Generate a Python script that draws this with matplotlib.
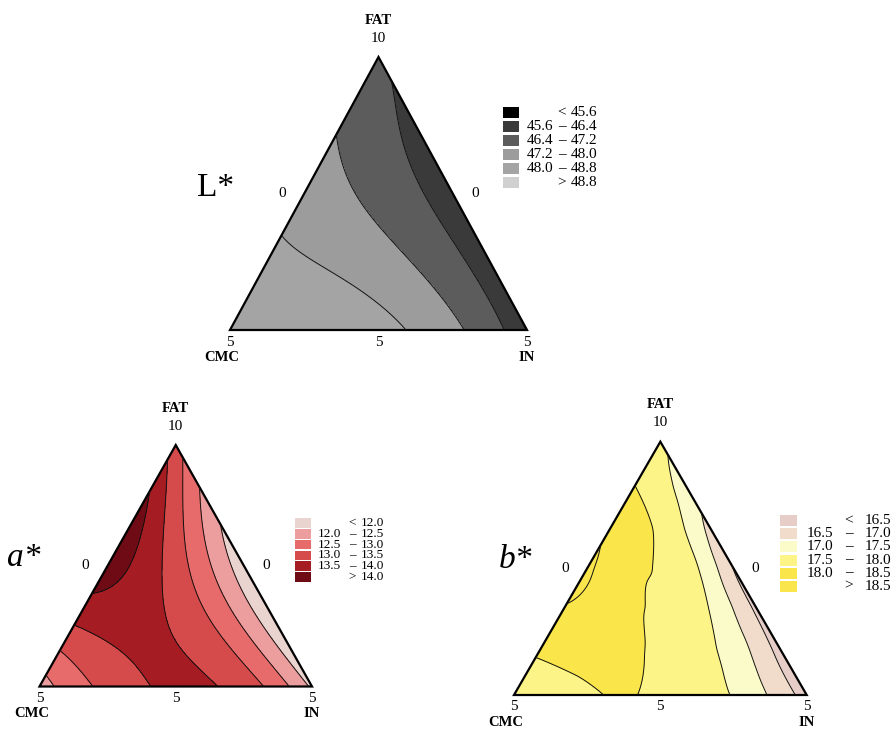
import numpy as np
import matplotlib
matplotlib.use("Agg")
import matplotlib.pyplot as plt
import matplotlib.tri as mtri
from matplotlib.patches import Polygon, Rectangle

W, H = 893, 735
S3 = np.sqrt(3) / 2

# response values on a 1/6 simplex lattice, one row per FAT level (bottom -> apex),
# each row runs from the CMC side to the IN side
L_rows = [
    [48.5, 48.45, 48.35, 48.2, 47.8, 46.9, 45.9],
    [48.3, 48.15, 47.95, 47.6, 46.9, 45.97],
    [48.02, 47.75, 47.35, 46.7, 46.05],
    [47.7, 47.3, 46.55, 46.12],
    [47.3, 46.7, 46.2],
    [46.9, 46.33],
    [46.45],
]
a_rows = [
    [12.3, 12.85, 13.4, 13.7, 13.3, 13.05, 11.9],
    [13.1, 13.45, 13.58, 13.3, 12.8, 11.6],
    [13.8, 13.75, 13.4, 12.7, 11.6],
    [14.3, 13.7, 12.7, 11.7],
    [14.25, 13.2, 11.9],
    [13.95, 12.6],
    [13.2],
]
b_rows = [
    [17.6, 17.8, 18.02, 17.9, 17.65, 17.15, 16.3],
    [18.05, 18.15, 18.05, 17.75, 17.3, 16.3],
    [18.45, 18.2, 17.93, 17.5, 16.38],
    [18.6, 18.07, 17.75, 16.48],
    [18.4, 17.9, 16.85],
    [17.98, 17.3],
    [17.6],
]

L_levels = [45.6, 46.4, 47.2, 48.0, 48.8]
a_levels = [12.0, 12.5, 13.0, 13.5, 14.0]
b_levels = [16.5, 17.0, 17.5, 18.0, 18.5]

L_colors = ['#000000', '#3a3a3a', '#5c5c5c', '#9c9c9c', '#a4a4a4', '#d0d0d0']
a_colors = ['#ead4d0', '#ec9e9e', '#e86b6b', '#d54a4a', '#a51d23', '#6e0b14']
b_colors = ['#e6cdc8', '#f1dccb', '#fbfbca', '#fdf488', '#fae64a', '#fbe54c']

fig = plt.figure(figsize=(W / 100, H / 100), dpi=100)
over = fig.add_axes([0, 0, 1, 1])
over.set_xlim(0, W)
over.set_ylim(H, 0)
over.axis('off')

SERIF = 'Liberation Serif'


def lattice(rows):
    n = len(rows) - 1
    xs, ys, zs = [], [], []
    for k, row in enumerate(rows):
        for j, v in enumerate(row):
            f, i = k / n, j / n
            xs.append(i + f / 2)
            ys.append(f * S3)
            zs.append(v)
    return np.array(xs), np.array(ys), np.array(zs)


def scheffe(x, y, deg):
    # homogeneous mixture polynomial terms in (CMC, IN, FAT)
    f = y / S3
    i = x - f / 2
    c = 1 - i - f
    cols = []
    for p in range(deg + 1):
        for q in range(deg + 1 - p):
            cols.append(c ** p * i ** q * f ** (deg - p - q))
    return np.column_stack(cols)


def panel(bl, base, height, rows, levels, colors, deg=4):
    x0, y0 = bl
    ax = fig.add_axes([x0 / W, 1 - y0 / H, base / W, height / H])
    xs, ys, zs = lattice(rows)
    tri = mtri.Triangulation(xs, ys)
    refiner = mtri.UniformTriRefiner(tri)
    if deg:
        tri_r = refiner.refine_triangulation(subdiv=5)
        coef = np.linalg.lstsq(scheffe(xs, ys, deg), zs, rcond=None)[0]
        z_r = scheffe(tri_r.x, tri_r.y, deg) @ coef
    else:
        interp = mtri.CubicTriInterpolator(tri, zs, kind='min_E')
        tri_r, z_r = refiner.refine_field(zs, triinterpolator=interp, subdiv=5)
    lv = [-1e3] + levels + [1e3]
    ax.tricontourf(tri_r, z_r, levels=lv, colors=colors)
    ax.tricontour(tri_r, z_r, levels=levels, colors='#111111', linewidths=0.7)
    ax.add_patch(Polygon([(0, 0), (1, 0), (0.5, S3)], closed=True, fill=False,
                         ec='black', lw=1.6, clip_on=False, joinstyle='miter'))
    ax.set_xlim(0, 1)
    ax.set_ylim(0, S3)
    ax.axis('off')

    # axis labels
    apx = x0 + base / 2
    top = y0 - height
    bold = dict(ha='center', va='center', family=SERIF, weight='bold', fontsize=10.5)
    num = dict(ha='center', va='center', family=SERIF, fontsize=11)
    over.text(apx, top - 37, 'FAT', **bold)
    over.text(apx, top - 19, '10', **num)
    over.text(x0, y0 + 12, '5', **num)
    over.text(x0 - 8, y0 + 27, 'CMC', **bold)
    over.text(apx, y0 + 12, '5', **num)
    over.text(x0 + base, y0 + 12, '5', **num)
    over.text(x0 + base, y0 + 27, 'IN', **bold)
    over.text(x0 + base / 4 - 22, y0 - height / 2, '0', **num)
    over.text(x0 + 3 * base / 4 + 22, y0 - height / 2, '0', **num)


def legend(levels, colors, sq_x, row_y, step, sq_w, sq_h, num1_r, dash_c, num2_r, fs):
    for r, col in enumerate(colors):
        yc = row_y + r * step
        over.add_patch(Rectangle((sq_x, yc - sq_h / 2), sq_w, sq_h, fc=col, ec='none'))
        if r == 0:
            over.text(dash_c, yc, '<', ha='center', va='center', family=SERIF, fontsize=fs)
            over.text(num2_r, yc, f'{levels[0]:.1f}', ha='right', va='center',
                      family=SERIF, fontsize=fs)
        elif r == len(colors) - 1:
            over.text(dash_c, yc, '>', ha='center', va='center', family=SERIF, fontsize=fs)
            over.text(num2_r, yc, f'{levels[-1]:.1f}', ha='right', va='center',
                      family=SERIF, fontsize=fs)
        else:
            over.text(num1_r, yc, f'{levels[r - 1]:.1f}', ha='right', va='center',
                      family=SERIF, fontsize=fs)
            over.text(dash_c, yc, '\u2013', ha='center', va='center', family=SERIF, fontsize=fs)
            over.text(num2_r, yc, f'{levels[r]:.1f}', ha='right', va='center',
                      family=SERIF, fontsize=fs)


panel((230, 330), 297, 273, L_rows, L_levels, L_colors)
panel((39.5, 686.5), 272.5, 241.5, a_rows, a_levels, a_colors)
panel((514, 695), 292.7, 253.3, b_rows, b_levels, b_colors, deg=None)

legend(L_levels, L_colors, 503, 112.5, 14, 16, 11, 553, 562, 597, 11)
legend(a_levels, a_colors, 295, 523, 10.8, 16, 9.5, 341, 352, 384, 9.5)
legend(b_levels, b_colors, 780, 520.7, 13.1, 17, 11, 833, 849, 891, 11)

over.text(216, 188, 'L*', ha='center', va='center', family=SERIF, fontsize=24)
over.text(24, 558, 'a*', ha='center', va='center', family=SERIF, style='italic', fontsize=24)
over.text(516, 560, 'b*', ha='center', va='center', family=SERIF, style='italic', fontsize=24)

fig.savefig('out.png', dpi=100)
